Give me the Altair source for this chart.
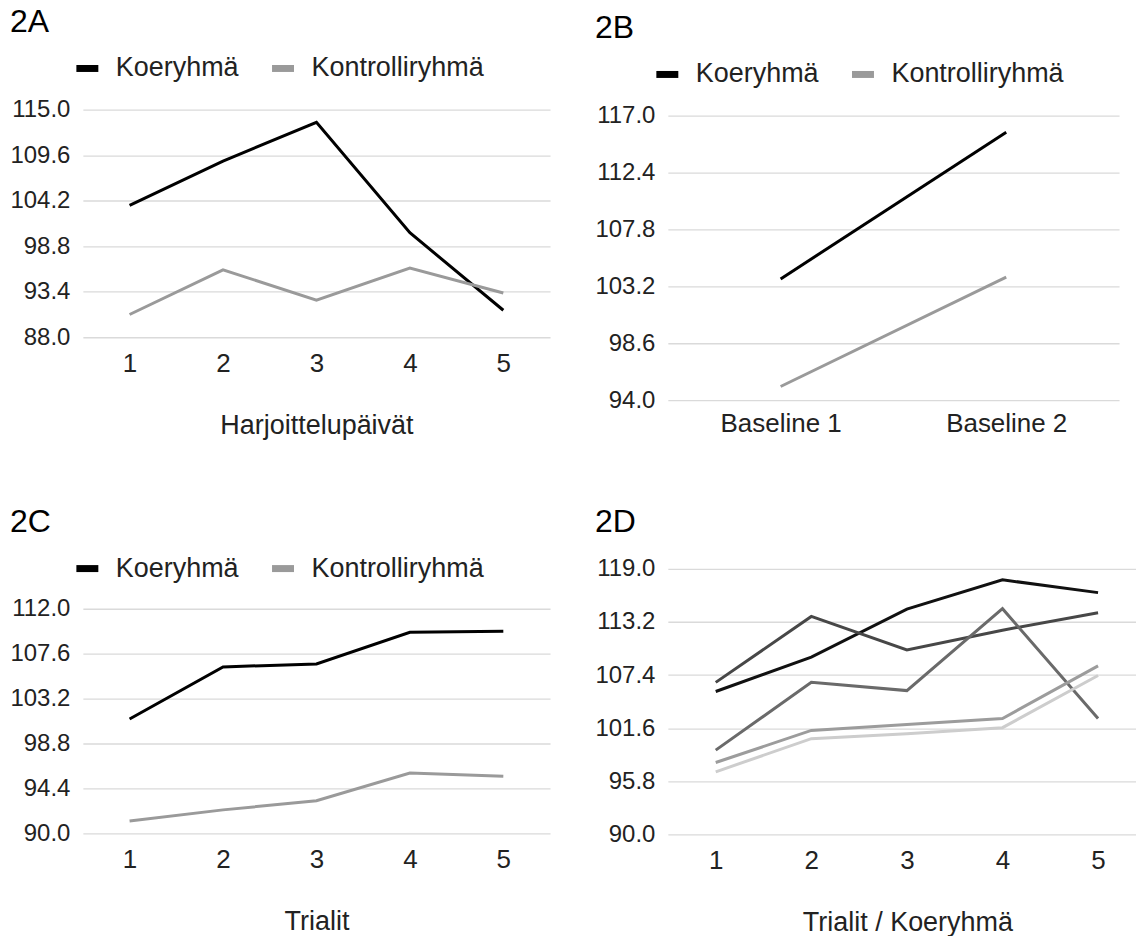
import altair as alt
import pandas as pd

FONT = "Liberation Sans"

# ---------------- data ----------------
groups = ["Koeryhmä", "Kontrolliryhmä"]
group_colors = ["#000000", "#9a9a9a"]

a_days = ["1", "2", "3", "4", "5"]
a_koe = [103.65, 108.9, 113.5, 100.4, 91.2]
a_kontrolli = [90.7, 96.0, 92.4, 96.2, 93.25]
a_ticks = [88.0, 93.4, 98.8, 104.2, 109.6, 115.0]

b_cats = ["Baseline 1", "Baseline 2"]
b_koe = [103.8, 115.65]
b_kontrolli = [95.1, 103.95]
b_ticks = [94.0, 98.6, 103.2, 107.8, 112.4, 117.0]

c_trials = ["1", "2", "3", "4", "5"]
c_koe = [101.2, 106.3, 106.6, 109.7, 109.8]
c_kontrolli = [91.2, 92.3, 93.2, 95.9, 95.6]
c_ticks = [90.0, 94.4, 98.8, 103.2, 107.6, 112.0]

d_trials = ["1", "2", "3", "4", "5"]
d_names = ["1", "2", "3", "4", "5"]
d_s1 = [105.6, 109.35, 114.6, 117.8, 116.4]
d_s2 = [106.6, 113.8, 110.15, 112.3, 114.2]
d_s3 = [99.2, 106.6, 105.7, 114.65, 102.65]
d_s4 = [97.85, 101.35, 102.0, 102.65, 108.4]
d_s5 = [96.83, 100.45, 101.0, 101.65, 107.35]
d_colors = ["#111111", "#474747", "#6a6a6a", "#9c9c9c", "#cdcdcd"]
d_ticks = [90.0, 95.8, 101.6, 107.4, 113.2, 119.0]


def two_group_df(cats, koe, kontrolli):
    rows = []
    for i, c in enumerate(cats):
        rows.append({"x": c, "y": koe[i], "g": groups[0], "o": i})
    for i, c in enumerate(cats):
        rows.append({"x": c, "y": kontrolli[i], "g": groups[1], "o": i})
    return pd.DataFrame(rows)


df_a = two_group_df(a_days, a_koe, a_kontrolli)
df_b = two_group_df(b_cats, b_koe, b_kontrolli)
df_c = two_group_df(c_trials, c_koe, c_kontrolli)
rows = []
for name, vals in zip(d_names, [d_s1, d_s2, d_s3, d_s4, d_s5]):
    for i, c in enumerate(d_trials):
        rows.append({"x": c, "y": vals[i], "g": name, "o": i})
df_d = pd.DataFrame(rows)


def legend(legend_x, legend_y):
    return alt.Legend(
        orient="none", legendX=legend_x, legendY=legend_y, direction="horizontal",
        title=None, symbolType="stroke", symbolSize=484, symbolStrokeWidth=7,
        labelFontSize=27, labelOffset=14, columnPadding=18, padding=0,
        labelFont=FONT, labelColor="#222222", labelLimit=400,
    )


def panel(df, title, cats, ticks, domain, width, height, xtitle,
          color_domain, color_range, leg, x_label_pad=34, xscale=None,
          title_x=None, title_offset=-10):
    xaxis_kw = dict(
        title=xtitle, labelAngle=0, labelFontSize=26, labelPadding=x_label_pad,
        labelBaseline="alphabetic", ticks=False, tickSize=0, domain=False,
        grid=False, labelColor="#222222", labelFont=FONT,
        titleFontSize=27, titleFontWeight="normal", titleColor="#222222",
        titleFont=FONT, titleY=96, titleBaseline="alphabetic",
    )
    if title_x is not None:
        xaxis_kw["titleX"] = title_x
    if xscale is None:
        xscale = alt.Scale(type="point", padding=0.5)
    return (
        alt.Chart(df)
        .mark_line(strokeWidth=3)
        .encode(
            x=alt.X("x:N", sort=cats, scale=xscale, axis=alt.Axis(**xaxis_kw)),
            y=alt.Y(
                "y:Q",
                scale=alt.Scale(domain=domain, nice=False, zero=False),
                axis=alt.Axis(
                    title=None, values=ticks, format=".1f", labelFontSize=24,
                    labelPadding=13, ticks=False, tickSize=0, domain=False,
                    grid=True, gridColor="#dadada", gridWidth=1.3,
                    labelColor="#222222", labelFont=FONT,
                ),
            ),
            color=alt.Color(
                "g:N",
                scale=alt.Scale(domain=color_domain, range=color_range),
                legend=leg,
            ),
            order="o:Q",
        )
        .properties(
            width=width,
            height=height,
            title=alt.TitleParams(
                text=title, anchor="start", frame="bounds", fontSize=32,
                fontWeight="normal", font=FONT, baseline="alphabetic",
                offset=title_offset, color="#000000",
            ),
        )
    )


chart_a = panel(df_a, "2A", a_days, a_ticks, [88.0, 115.0], 468, 228,
                "Harjoittelupäivät", groups, group_colors, legend(-10, -56))
chart_b = panel(df_b, "2B", b_cats, b_ticks, [94.0, 117.484], 452, 291,
                None, groups, group_colors, legend(-15, -50), x_label_pad=31)
chart_c = panel(df_c, "2C", c_trials, c_ticks, [90.0, 112.0], 468, 225,
                "Trialit", groups, group_colors, legend(-10, -55))
chart_d = panel(df_d, "2D", d_trials, d_ticks, [90.0, 119.0], 469, 266,
                "Trialit / Koeryhmä", d_names, d_colors, None,
                xscale=alt.Scale(type="point", padding=0.449, align=0.558),
                title_x=240, title_offset=-7)

chart = (
    alt.concat(chart_a, chart_b, chart_c, chart_d, columns=2,
               spacing={"row": 68, "column": 44}, align="none")
    .resolve_scale(color="independent", x="independent", y="independent")
    .resolve_legend(color="independent")
    .properties(padding={"left": 1, "top": -3, "right": 0, "bottom": 0})
    .configure(font=FONT)
    .configure_view(stroke=None)
)

chart.save("out.html", embed_options={"renderer": "svg", "actions": False})
